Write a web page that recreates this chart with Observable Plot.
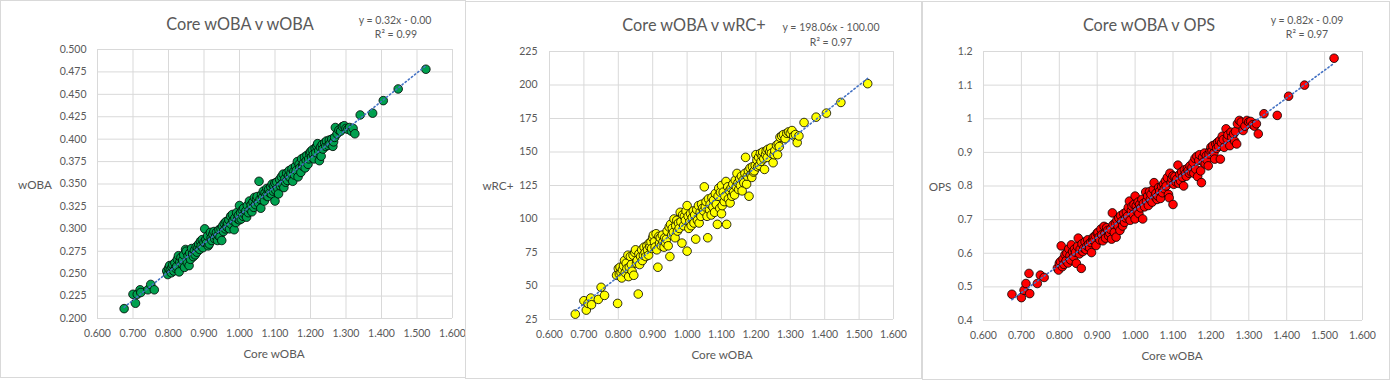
<!DOCTYPE html>
<html><head><meta charset="utf-8">
<script src="https://cdn.jsdelivr.net/npm/d3@7"></script>
<script src="https://cdn.jsdelivr.net/npm/@observablehq/plot@0.6"></script>
<style>
html,body{margin:0;padding:0;background:#fff;}
#root{position:relative;width:1390px;height:380px;overflow:hidden;font-family:Lato,sans-serif;color:#595959;}
.panel{position:absolute;background:#fff;border:1px solid #d9d9d9;box-sizing:border-box;}
.chart{position:absolute;top:0;}
.t{position:absolute;transform:translate(-50%,-50%);white-space:nowrap;line-height:1;}
.title{font-size:16.3px}
.eq{font-size:10.5px}
.ax{font-size:11.7px}
</style></head>
<body><div id="root"></div>
<script>
const coreWOBA = [
0.675,0.700,0.707,0.712,0.720,0.722,0.742,0.750,0.760,
0.795,0.798,0.800,0.803,0.805,0.808,0.810,0.812,0.815,0.818,0.820,0.823,0.825,0.828,0.830,0.832,0.835,0.838,0.840,0.843,0.845,0.848,0.850,0.853,0.855,0.858,0.860,0.862,0.865,0.868,0.870,0.873,0.875,0.878,0.880,0.883,0.885,0.888,0.890,0.892,0.895,0.897,0.900,
0.902,0.905,0.907,0.910,0.912,0.915,0.918,0.920,0.922,0.925,0.928,0.930,0.933,0.935,0.938,0.940,0.942,0.945,0.948,0.950,0.952,0.955,0.957,0.960,0.962,0.965,0.967,0.970,0.972,0.975,0.977,0.980,0.982,0.985,0.987,0.990,0.992,0.995,0.997,1.000,1.000,
1.003,1.005,1.008,1.010,1.012,1.015,1.018,1.020,1.022,1.025,1.028,1.030,1.033,1.035,1.038,1.040,1.042,1.045,1.048,1.050,1.053,1.055,1.058,1.060,1.062,1.065,1.067,1.070,1.072,1.075,1.077,1.080,1.082,1.085,1.088,1.090,1.092,1.095,1.097,1.100,1.100,
1.102,1.105,1.108,1.110,1.113,1.115,1.118,1.120,1.123,1.125,1.128,1.130,1.133,1.135,1.138,1.140,1.143,1.145,1.148,1.150,1.153,1.155,1.158,1.160,1.163,1.165,1.168,1.170,1.173,1.175,1.178,1.180,1.183,1.185,1.188,1.190,1.193,1.195,1.198,
1.200,1.203,1.205,1.208,1.210,1.213,1.215,1.218,1.220,1.223,1.225,1.228,1.230,1.233,1.235,1.240,1.243,1.245,1.250,1.253,1.255,1.260,1.263,1.265,1.268,
1.270,1.275,1.280,1.285,1.290,1.295,1.300,1.305,1.310,1.315,1.320,1.325,
1.340,1.375,1.405,1.447,1.525];

const wOBA = [
0.211,0.227,0.217,0.227,0.232,0.229,0.232,0.238,0.232,
0.253,0.249,0.256,0.259,0.254,0.251,0.257,0.260,0.253,0.262,0.256,0.258,0.266,0.270,0.252,0.263,0.268,0.261,0.265,0.271,0.257,0.277,0.275,0.262,0.270,0.259,0.273,0.266,0.278,0.272,0.269,0.276,0.271,0.280,0.274,0.279,0.283,0.277,0.286,0.281,0.288,0.279,0.285,
0.300,0.288,0.284,0.292,0.281,0.283,0.296,0.290,0.287,0.294,0.297,0.289,0.292,0.296,0.287,0.293,0.299,0.291,0.300,0.287,0.303,0.297,0.306,0.300,0.308,0.302,0.306,0.310,0.300,0.314,0.305,0.316,0.309,0.299,0.312,0.307,0.318,0.311,0.315,0.326,0.310,
0.318,0.311,0.321,0.314,0.323,0.316,0.320,0.313,0.326,0.318,0.331,0.322,0.327,0.319,0.330,0.324,0.335,0.327,0.333,0.336,0.329,0.353,0.333,0.323,0.338,0.335,0.342,0.331,0.340,0.337,0.345,0.336,0.344,0.340,0.347,0.339,0.350,0.342,0.348,0.331,0.351,
0.343,0.352,0.345,0.339,0.355,0.348,0.358,0.350,0.361,0.346,0.356,0.352,0.362,0.354,0.359,0.365,0.357,0.362,0.367,0.353,0.364,0.360,0.370,0.365,0.375,0.358,0.372,0.368,0.363,0.378,0.370,0.373,0.380,0.368,0.376,0.382,0.372,0.378,0.384,
0.386,0.380,0.388,0.383,0.378,0.390,0.385,0.392,0.395,0.387,0.376,0.391,0.381,0.394,0.389,0.396,0.392,0.398,0.393,0.399,0.395,0.400,0.392,0.397,0.402,
0.413,0.406,0.410,0.409,0.414,0.415,0.412,0.411,0.413,0.409,0.412,0.406,
0.427,0.429,0.443,0.456,0.478];

const wRCplus = [
29,39,32,37,41,36,40,49,43,
58,37,63,59,64,60,56,62,65,69,60,67,63,73,57,64,72,66,61,73,58,75,77,67,69,44,74,66,72,77,69,73,79,75,72,80,77,73,82,79,83,78,86,
88,83,79,89,77,64,87,82,86,80,88,83,79,86,82,85,91,80,94,72,96,88,93,90,100,86,95,99,91,97,93,105,98,82,103,95,102,99,106,110,76,
102,93,98,104,95,101,106,97,103,85,107,99,110,97,105,102,111,108,106,124,109,113,102,86,115,107,111,103,116,109,114,105,119,111,96,117,123,108,120,104,125,
110,120,113,117,128,96,124,115,121,112,123,117,126,120,118,129,124,134,127,122,130,125,132,121,129,127,134,146,126,132,136,117,138,133,131,139,135,136,140,
148,144,139,146,140,149,143,147,150,145,137,148,151,146,152,150,153,149,142,148,151,155,148,156,154,
161,162,163,160,164,165,164,166,162,163,157,162,
172,176,179,187,201];

const OPS = [
0.478,0.468,0.490,0.510,0.540,0.480,0.510,0.535,0.528,
0.556,0.550,0.570,0.575,0.622,0.560,0.583,0.567,0.596,0.578,0.600,0.571,0.613,0.593,0.580,0.625,0.605,0.590,0.612,0.603,0.570,0.620,0.645,0.598,0.612,0.555,0.628,0.605,0.615,0.634,0.611,0.622,0.640,0.628,0.616,0.632,0.602,0.640,0.648,0.638,0.652,0.623,0.660,
0.662,0.648,0.640,0.672,0.655,0.637,0.680,0.658,0.645,0.676,0.668,0.652,0.660,0.671,0.642,0.720,0.685,0.662,0.690,0.648,0.698,0.680,0.705,0.668,0.712,0.695,0.681,0.718,0.692,0.705,0.723,0.710,0.736,0.755,0.698,0.727,0.740,0.715,0.745,0.770,0.702,
0.741,0.726,0.752,0.718,0.745,0.735,0.760,0.702,0.748,0.738,0.782,0.755,0.770,0.742,0.783,0.760,0.775,0.752,0.790,0.810,0.768,0.778,0.760,0.770,0.795,0.785,0.763,0.798,0.780,0.806,0.792,0.815,0.800,0.825,0.775,0.765,0.838,0.810,0.822,0.745,0.830,
0.805,0.828,0.812,0.820,0.862,0.808,0.835,0.815,0.842,0.826,0.800,0.848,0.837,0.829,0.852,0.846,0.838,0.860,0.842,0.855,0.870,0.838,0.882,0.850,0.888,0.828,0.876,0.893,0.845,0.810,0.885,0.871,0.898,0.866,0.890,0.877,0.860,0.895,0.905,
0.915,0.905,0.920,0.898,0.880,0.925,0.912,0.930,0.918,0.935,0.880,0.928,0.948,0.938,0.915,0.970,0.940,0.952,0.920,0.960,0.945,0.955,0.933,0.962,0.925,
0.985,0.995,0.990,0.965,0.978,0.995,0.990,0.992,0.982,0.978,0.985,0.955,
1.015,1.010,1.067,1.100,1.180];

const xTicks = [0.6,0.7,0.8,0.9,1.0,1.1,1.2,1.3,1.4,1.5,1.6];
const yTicksWOBA = [0.200,0.225,0.250,0.275,0.300,0.325,0.350,0.375,0.400,0.425,0.450,0.475,0.500];
const yTicksWRC = [25,50,75,100,125,150,175,200,225];
const yTicksOPS = [0.4,0.5,0.6,0.7,0.8,0.9,1.0,1.1,1.2];

const titles = ["Core wOBA v wOBA","Core wOBA v wRC+","Core wOBA v OPS"];
const yLabels = ["wOBA","wRC+","OPS"];
const xLabel = "Core wOBA";
const equations = ["y = 0.32x - 0.00","y = 198.06x - 100.00","y = 0.82x - 0.09"];
const r2Labels = ["R² = 0.99","R² = 0.97","R² = 0.97"];
const fills = ["#00a04f","#ffff00","#ff0000"];

const rows = coreWOBA.map((x,i)=>({x, woba:wOBA[i], wrc:wRCplus[i], ops:OPS[i]}));

const panels = [
 {key:"woba", yTicks:yTicksWOBA, yfmt:d3.format(".3f"),
  box:{left:0,top:0,width:466,height:378},
  svg:{left:0,width:463,mt:49,mb:62,ml:97,mr:11}, pad:11,
  title:[240,23.5], eq:[395,19.5], r2:[396,34], ylab:[35,185], xlab:[274,354]},
 {key:"wrc", yTicks:yTicksWRC, yfmt:d3.format("d"),
  box:{left:465,top:1,width:457,height:378},
  svg:{left:465,width:456,mt:51,mb:61,ml:84,mr:28}, pad:12,
  title:[694,24.5], eq:[831,27], r2:[831,42], ylab:[498,186], xlab:[722,355]},
 {key:"ops", yTicks:yTicksOPS, yfmt:d=>String(+d.toFixed(2)),
  box:{left:922,top:1,width:468,height:379},
  svg:{left:922,width:468,mt:51,mb:60,ml:61,mr:28}, pad:11,
  title:[1149,24.5], eq:[1307,19.5], r2:[1307,34], ylab:[940,187], xlab:[1172,356]}
];

const root = document.getElementById("root");
function addText(cls, txt, pos){
  const d = document.createElement("div");
  d.className = "t " + cls; d.textContent = txt;
  d.style.left = pos[0]+"px"; d.style.top = pos[1]+"px";
  root.appendChild(d);
}
panels.forEach((p,i)=>{
  const b = document.createElement("div");
  b.className = "panel";
  Object.assign(b.style,{left:p.box.left+"px",top:p.box.top+"px",width:p.box.width+"px",height:p.box.height+"px"});
  if(i===0) b.style.borderRight = "none";
  root.appendChild(b);
  const ydom = [p.yTicks[0], p.yTicks[p.yTicks.length-1]];
  const chart = Plot.plot({
    width:p.svg.width, height:380,
    marginTop:p.svg.mt, marginBottom:p.svg.mb, marginLeft:p.svg.ml, marginRight:p.svg.mr,
    style:{background:"transparent", overflow:"visible", fontFamily:"Lato, sans-serif", fontSize:"10.5px", color:"#595959"},
    x:{domain:[0.6,1.6]},
    y:{domain:ydom},
    marks:[
      Plot.gridX(xTicks,{stroke:"#d9d9d9", strokeOpacity:1, strokeWidth:1}),
      Plot.gridY(p.yTicks,{stroke:"#d9d9d9", strokeOpacity:1, strokeWidth:1}),
      Plot.axisX(xTicks,{tickSize:0, tickPadding:11, tickFormat:d3.format(".3f"), label:null, fill:"#595959"}),
      Plot.axisY(p.yTicks,{tickSize:0, tickPadding:p.pad, tickFormat:p.yfmt, label:null, fill:"#595959"}),
      Plot.dot(rows,{x:"x", y:p.key, r:4.3, fill:fills[i], fillOpacity:1, stroke:"#000", strokeWidth:0.8}),
      Plot.linearRegressionY(rows,{x:"x", y:p.key, ci:0, stroke:"#4472c4", strokeWidth:1.6, strokeDasharray:"1.4 2.6"})
    ]
  });
  chart.classList.add("chart");
  chart.style.left = p.svg.left+"px";
  root.appendChild(chart);
  addText("title", titles[i], p.title);
  addText("eq", equations[i], p.eq);
  addText("eq", r2Labels[i], p.r2);
  addText("ax", yLabels[i], p.ylab);
  addText("ax", xLabel, p.xlab);
});
</script>
</body></html>
